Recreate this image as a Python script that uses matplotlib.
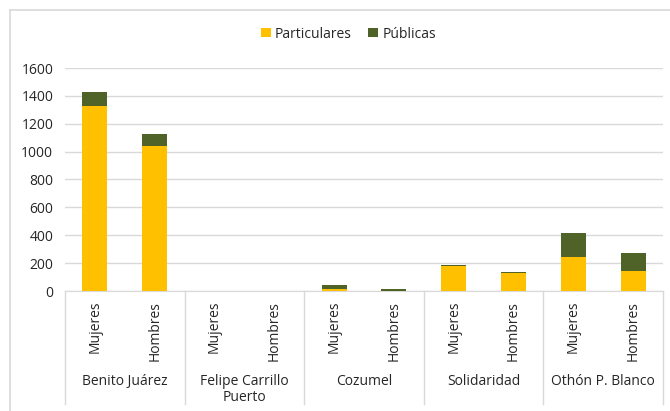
import matplotlib.pyplot as plt
import matplotlib.transforms as mtransforms
from matplotlib.lines import Line2D
import numpy as np

plt.rcParams['font.family'] = ['Open Sans', 'DejaVu Sans']

municipios = ['Benito Juárez', 'Felipe Carrillo\nPuerto', 'Cozumel', 'Solidaridad', 'Othón P. Blanco']
sexos = ['Mujeres', 'Hombres']
particulares = [1330, 1040, 0, 0, 14, 1, 176, 130, 245, 143]
publicas = [100, 90, 0, 0, 27, 13, 7, 7, 170, 127]

c_part = '#FFC000'
c_pub = '#4F6228'
grid_c = '#d9d9d9'
txt_c = '#262626'
fs = 10

fig = plt.figure(figsize=(6.7, 4.11), dpi=100)
ax = fig.add_axes([65 / 670, (411 - 291) / 411, (663 - 65) / 670, 223 / 411])

x = np.arange(len(particulares))
ax.bar(x, particulares, width=0.42, color=c_part, label='Particulares', zorder=3)
ax.bar(x, publicas, width=0.42, bottom=particulares, color=c_pub, label='Públicas', zorder=3)

ax.set_xlim(-0.5, len(x) - 0.5)
ax.set_ylim(0, 1600)
ax.set_yticks(range(0, 1601, 200))
ax.yaxis.grid(True, color=grid_c, linewidth=1, zorder=0)
for s in ['top', 'right', 'left']:
    ax.spines[s].set_visible(False)
ax.spines['bottom'].set_color(grid_c)
ax.tick_params(axis='y', length=0, pad=8.5, labelsize=fs, labelcolor=txt_c)
ax.set_xticks(x)
ax.set_xticklabels(sexos * len(municipios), rotation=90, fontsize=fs, color=txt_c)
ax.tick_params(axis='x', length=0, pad=7)

trans = mtransforms.blended_transform_factory(ax.transData, ax.transAxes)
for i, m in enumerate(municipios):
    ax.text(2 * i + 0.5, -0.37, m, transform=trans, ha='center', va='top',
            fontsize=fs, color=txt_c, linespacing=1.15)
for b in np.arange(-0.5, len(x), 2):
    ax.plot([b, b], [0, -0.505], transform=trans, color=grid_c, linewidth=1, clip_on=False)

# outer chart frame (left and top edges)
fig.add_artist(Line2D([10 / 670, 10 / 670], [0.0, 1 - 10 / 411], color=grid_c, linewidth=1.2))
fig.add_artist(Line2D([10 / 670, 1.0], [1 - 10 / 411, 1 - 10 / 411], color=grid_c, linewidth=1.2))

fig.legend(loc='center', bbox_to_anchor=(0.52, 1 - 34 / 411), ncol=2, frameon=False,
           fontsize=fs, handlelength=0.7, handleheight=0.7, handletextpad=0.3,
           columnspacing=1.2, labelcolor=txt_c)

fig.savefig('out.png', dpi=100)
